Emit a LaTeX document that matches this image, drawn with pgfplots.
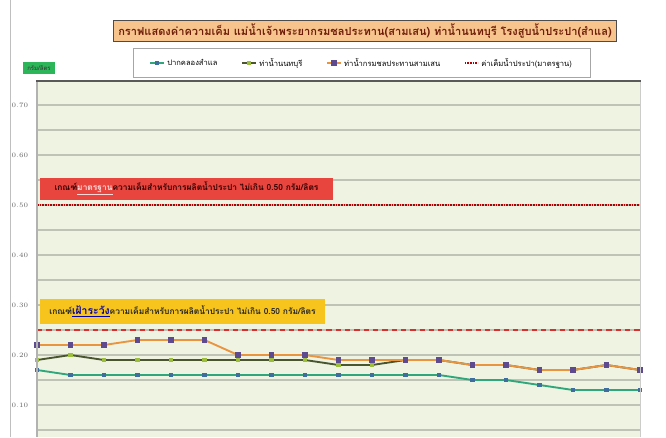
\documentclass[border=0pt]{standalone}
\usepackage{pgfplots}
\pgfplotsset{compat=1.18}
\usepackage{pgfplotstable}
\usepackage{fontspec}
\setmainfont{Liberation Sans}
\newfontfamily\thai[Script=Thai]{Loma}
\definecolor{bgc}{HTML}{EEF3E2}
\definecolor{gridc}{HTML}{BFC3B6}
\definecolor{tealc}{HTML}{2FA77A}
\definecolor{tealm}{HTML}{3D6E9E}
\definecolor{olivec}{HTML}{4A5530}
\definecolor{olivem}{HTML}{9DBE3C}
\definecolor{orangec}{HTML}{EB9440}
\definecolor{orangem}{HTML}{5E4A8E}
\definecolor{redd}{HTML}{D8302E}
\definecolor{titlefill}{HTML}{F8C48E}
\definecolor{titletext}{HTML}{6E1E08}
\definecolor{redbox}{HTML}{E8453F}
\definecolor{yelbox}{HTML}{F6C41C}
\definecolor{greenbox}{HTML}{2DB559}

\pgfplotstableread{
x teal olive orange
0 0.17 0.19 0.22
1 0.16 0.20 0.22
2 0.16 0.19 0.22
3 0.16 0.19 0.23
4 0.16 0.19 0.23
5 0.16 0.19 0.23
6 0.16 0.19 0.20
7 0.16 0.19 0.20
8 0.16 0.19 0.20
9 0.16 0.18 0.19
10 0.16 0.18 0.19
11 0.16 0.19 0.19
12 0.16 0.19 0.19
13 0.15 0.18 0.18
14 0.15 0.18 0.18
15 0.14 0.17 0.17
16 0.13 0.17 0.17
17 0.13 0.18 0.18
18 0.13 0.17 0.17
}\salt

\begin{document}
\begin{tikzpicture}
\begin{axis}[
  at={(0,0)}, anchor=south west,
  scale only axis,
  width=452.25pt, height=267pt,
  xmin=0, xmax=18,
  ymin=0.036, ymax=0.748,
  axis background/.style={fill=bgc},
  axis line style={draw=none},
  xtick=\empty,
  ytick={0.1,0.2,0.3,0.4,0.5,0.6,0.7},
  minor ytick={0.05,0.15,0.25,0.35,0.45,0.55,0.65},
  ymajorgrids, yminorgrids,
  major grid style={gridc, line width=0.8pt},
  minor grid style={gridc, line width=0.8pt},
  major tick length=0pt, minor tick length=0pt,
  yticklabel style={font=\fontsize{4.5}{5}\selectfont, text=gray!80!black},
  yticklabel={\pgfmathprintnumber[fixed,fixed zerofill,precision=2]{\tick}},
  yticklabel shift=3pt,
  clip=false,
  legend columns=4,
  legend style={at={(0.539,1.0506)}, anchor=center, draw=gray!70, fill=white,
    font=\thai\fontsize{5.7}{6}\selectfont, inner xsep=12pt, inner ysep=5pt,
    /tikz/every even column/.append style={column sep=16pt}},
  legend image code/.code={
    \draw[#1, mark repeat=2, mark phase=2] plot coordinates {(0pt,0pt) (5pt,0pt) (10pt,0pt)};},
]
\addplot[tealc, line width=1.4pt, mark=square*, mark size=1.0pt, mark options={tealm, draw=tealm, fill=tealm}] table[x=x,y=teal]{\salt};
\addlegendentry{ปากคลองสำแล}
\addplot[olivec, line width=1.4pt, mark=square*, mark size=1.0pt, mark options={olivem, draw=olivem, fill=olivem}] table[x=x,y=olive]{\salt};
\addlegendentry{ท่าน้ำนนทบุรี}
\addplot[orangec, line width=1.4pt, mark=square*, mark size=1.2pt, mark options={orangem, draw=orangem, fill=orangem}] table[x=x,y=orange]{\salt};
\addlegendentry{ท่าน้ำกรมชลประทานสามเสน}
\addplot[red!70!black, line width=0.8pt, dash pattern=on 1.2pt off 0.8pt] coordinates {(0,0.5) (18,0.5)};
\addlegendentry{ค่าเค็มน้ำประปา(มาตรฐาน)}
\addplot[redd, line width=1.4pt, dash pattern=on 4pt off 3pt, forget plot] coordinates {(0,0.25) (18,0.25)};
\end{axis}
\begin{scope}[shift={(-27.75pt,327.75pt)}, x=0.75pt, y=-0.75pt]
  \useasboundingbox (0,0) rectangle (666,437);
  % frame lines
  \draw[gray!50, line width=0.6pt] (10,0) -- (10,437);
  \draw[gray!60, line width=0.8pt] (37,81) -- (37,437);
  \draw[gray!40, line width=0.6pt] (640,81) -- (640,437);
  \draw[black!65, line width=1.6pt] (36,81) -- (641,81);
  % title
  \node[draw=black!70, line width=0.9pt, fill=titlefill, text=titletext, minimum width=503*0.75pt, minimum height=21*0.75pt, inner sep=0pt,
        font=\thai\bfseries\fontsize{8.3}{9}\selectfont] at (365,31)
    {กราฟแสดงค่าความเค็ม แม่น้ำเจ้าพระยากรมชลประทาน(สามเสน) ท่าน้ำนนทบุรี โรงสูบน้ำประปา(สำแล)};
  % unit box
  \node[fill=greenbox, text=black!80, minimum width=32*0.75pt, minimum height=12*0.75pt, inner sep=0pt,
        font=\thai\fontsize{4.5}{5}\selectfont] at (39,68) {กรัม/ลิตร};
  % red annotation
  \node[fill=redbox, text=black!80!red, minimum width=293*0.75pt, minimum height=22*0.75pt, inner sep=0pt,
        font=\thai\bfseries\fontsize{6.3}{7}\selectfont] at (186.5,188.5)
    {เกณฑ์\textcolor{white!85!red}{\underline{มาตรฐาน}}ความเค็มสำหรับการผลิตน้ำประปา ไม่เกิน 0.50 กรัม/ลิตร};
  % yellow annotation
  \node[fill=yelbox, text=black!85, minimum width=285*0.75pt, minimum height=25*0.75pt, inner sep=0pt,
        font=\thai\bfseries\fontsize{6.3}{7}\selectfont] at (182.5,311)
    {เกณฑ์\textcolor{blue!70!black}{\underline{\fontsize{7.8}{8}\selectfont เฝ้าระวัง}}ความเค็มสำหรับการผลิตน้ำประปา ไม่เกิน 0.50 กรัม/ลิตร};
\end{scope}
\end{tikzpicture}
\end{document}
